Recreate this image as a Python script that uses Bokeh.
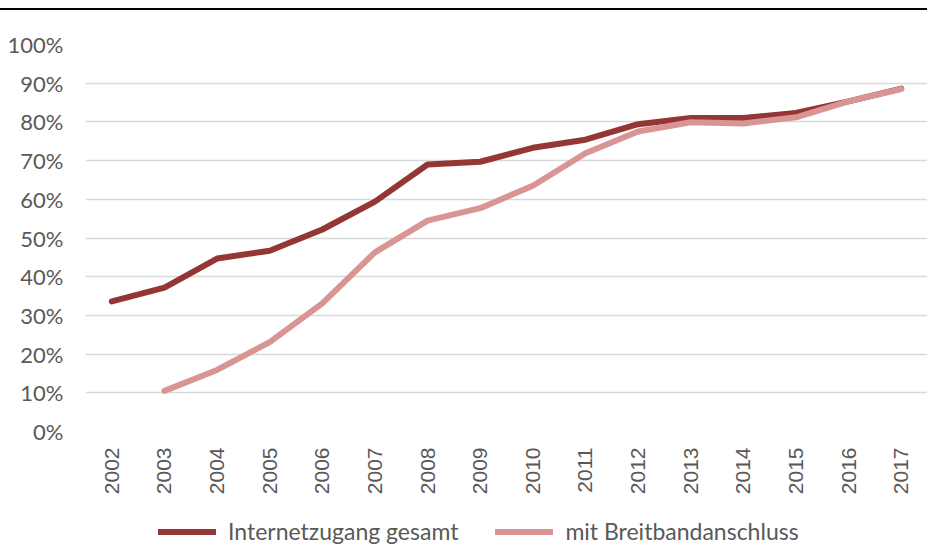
from bokeh.plotting import figure
from bokeh.models import (Range1d, FactorRange, FixedTicker, PrintfTickFormatter,
                          Legend, LegendItem)
from bokeh.layouts import column
from bokeh.embed import file_html
from bokeh.resources import INLINE
import math

years = [str(y) for y in range(2002, 2018)]
internet_total = [33.6, 37.2, 44.7, 46.7, 52.2, 59.4, 69.0, 69.7, 73.3, 75.4, 79.4, 81.0, 81.0, 82.3, 85.3, 88.6]
broadband_years = [str(y) for y in range(2003, 2018)]
broadband = [10.5, 15.9, 23.1, 33.1, 46.3, 54.5, 57.7, 63.5, 71.9, 77.5, 79.9, 79.6, 81.2, 85.3, 88.5]
y_ticks = list(range(0, 101, 10))
series_names = ["Internetzugang gesamt", "mit Breitbandanschluss"]

FONT = "Lato"
XFONT = "Liberation Sans"
DARK = "#943634"
LIGHT = "#D99594"
TXT = "#595959"

# ---- main chart ----
p = figure(width=927, height=491, frame_width=842, frame_height=387,
           x_range=FactorRange(*years), y_range=Range1d(0, 100),
           output_backend="svg", toolbar_location=None,
           min_border_left=85, min_border_right=0, min_border_top=34, min_border_bottom=70)
p.outline_line_color = None
p.background_fill_color = "white"
p.border_fill_color = "white"

p.line(years, internet_total, line_color=DARK, line_width=6, line_cap="round", line_join="round")
p.line(broadband_years, broadband, line_color=LIGHT, line_width=6, line_cap="round", line_join="round")

p.yaxis.ticker = FixedTicker(ticks=y_ticks)
p.yaxis.formatter = PrintfTickFormatter(format="%d%%")
p.yaxis.axis_line_color = None
p.yaxis.major_tick_line_color = None
p.yaxis.minor_tick_line_color = None
p.yaxis.major_label_text_font = FONT
p.yaxis.major_label_text_font_size = "22px"
p.yaxis.major_label_text_color = TXT
p.yaxis.major_label_standoff = 16

p.xaxis.axis_line_color = None
p.xaxis.major_tick_line_color = None
p.xaxis.major_label_orientation = math.pi / 2
p.xaxis.major_label_text_font = XFONT
p.xaxis.major_label_text_font_size = "21px"
p.xaxis.major_label_text_color = TXT
p.xaxis.major_label_standoff = 10

p.xgrid.grid_line_color = None
p.ygrid.grid_line_color = "#D9D9D9"
p.ygrid.grid_line_width = 1.5

# ---- legend strip (same series, drawn out of view so only the legend shows) ----
lf = figure(width=927, height=44, x_range=FactorRange(*years), y_range=Range1d(-300, -200),
            output_backend="svg", toolbar_location=None,
            x_axis_location=None, y_axis_location=None, min_border=0)
lf.outline_line_color = None
lf.grid.visible = False
r1 = lf.line(years, internet_total, line_color=DARK, line_width=6, line_cap="round")
r2 = lf.line(broadband_years, broadband, line_color=LIGHT, line_width=6, line_cap="round")

legend = Legend(items=[LegendItem(label=series_names[0], renderers=[r1]),
                       LegendItem(label=series_names[1], renderers=[r2])],
                orientation="horizontal", location=(73, 0),
                label_text_font=FONT, label_text_font_size="23px", label_text_color=TXT,
                glyph_width=58, glyph_height=23, label_height=23, label_standoff=12, spacing=37,
                border_line_color=None, background_fill_alpha=0, margin=0, padding=0)
lf.add_layout(legend, "center")

layout = column(p, lf, spacing=0, styles={"border-top": "2px solid black", "margin-top": "8px"})

open("out.html", "w").write(file_html(layout, INLINE))
